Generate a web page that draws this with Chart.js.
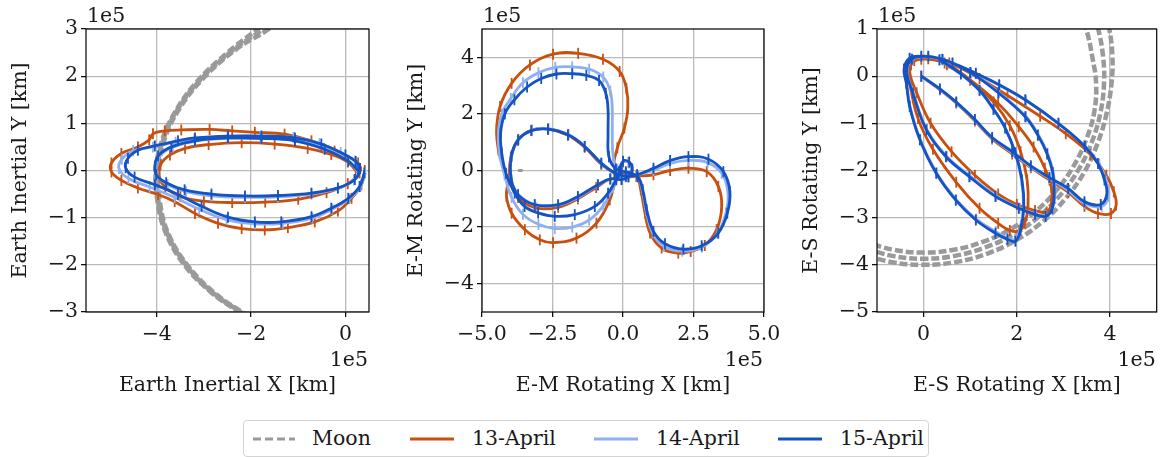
<!DOCTYPE html>
<html>
<head>
<meta charset="utf-8">
<script src="https://cdn.jsdelivr.net/npm/chart.js@4.4.0/dist/chart.umd.min.js"></script>
<style>
  body { margin: 0; background: #fff; width: 1164px; height: 457px; overflow: hidden; position: relative; font-family: 'DejaVu Serif', serif; }
  canvas { position: absolute; top: 0; }
  #legend { position: absolute; left: 243px; top: 420px; width: 686px; height: 37px; border: 1px solid #d4d4d4; border-radius: 4px; box-sizing: border-box; background: #fff; }
  #legend svg { position: absolute; left: 0; top: 0; }
  .lg { position: absolute; top: 0; line-height: 35px; font-size: 20.5px; color: #1a1a1a; white-space: nowrap; }
</style>
</head>
<body>
<canvas id="inertial" width="400" height="400" style="left:0px"></canvas>
<canvas id="emRot" width="400" height="400" style="left:390px"></canvas>
<canvas id="esRot" width="384" height="400" style="left:780px"></canvas>

<div id="legend">
  <svg width="686" height="37">
    <line x1="9" y1="18" x2="51" y2="18" stroke="#9a9a9a" stroke-width="2.8" stroke-dasharray="8,4"/>
    <line x1="166" y1="18" x2="210" y2="18" stroke="#c8500e" stroke-width="2.8"/>
    <line x1="350" y1="18" x2="394" y2="18" stroke="#8fb0f0" stroke-width="2.8"/>
    <line x1="534" y1="18" x2="578" y2="18" stroke="#1552c2" stroke-width="2.8"/>
  </svg>
  <span class="lg" style="left:68px">Moon</span>
  <span class="lg" style="left:228px">13-April</span>
  <span class="lg" style="left:412px">14-April</span>
  <span class="lg" style="left:596px">15-April</span>
</div>

<script>
// all values in units of 1e5 km

// ---- Earth inertial frame ----
const inertialXTicks = [-4, -2, 0];
const inertialYTicks = [-3, -2, -1, 0, 1, 2, 3];

const inertial13 = [
  [0.22,0.0],[0.05,0.18],[-0.3,0.34],[-0.8,0.47],[-1.5,0.56],[-2.2,0.59],[-2.9,0.55],[-3.4,0.47],[-3.72,0.33],[-3.92,0.12],
  [-3.95,-0.12],[-3.82,-0.35],[-3.5,-0.55],[-3.0,-0.65],[-2.4,-0.68],[-1.7,-0.67],[-1.0,-0.61],[-0.4,-0.47],[0.05,-0.28],[0.3,-0.05],
  [0.27,0.16],[-0.23,0.41],[-0.72,0.63],[-1.29,0.77],[-1.92,0.81],[-2.4,0.84],[-2.88,0.87],[-3.48,0.86],[-3.83,0.84],[-4.08,0.78],
  [-4.16,0.65],[-4.4,0.5],[-4.75,0.36],[-4.96,0.16],[-4.96,-0.03],[-4.75,-0.21],[-4.4,-0.37],[-3.97,-0.51],[-3.62,-0.66],[-3.19,-0.91],
  [-2.7,-1.12],[-2.2,-1.23],[-1.71,-1.26],[-1.22,-1.21],[-0.65,-1.09],[-0.16,-0.86],[0.13,-0.59],[0.34,-0.3],[0.41,0.0]
];
const inertial14 = [
  [0.25,0.0],[0.05,0.22],[-0.45,0.47],[-1.07,0.64],[-1.78,0.68],[-2.49,0.68],[-3.19,0.62],[-3.66,0.5],[-3.95,0.3],[-4.02,0.08],
  [-3.98,-0.12],[-3.77,-0.3],[-3.38,-0.45],[-2.84,-0.54],[-2.13,-0.57],[-1.43,-0.56],[-0.72,-0.5],[-0.16,-0.38],[0.18,-0.2],[0.3,0.03],
  [0.2,0.2],[-0.1,0.38],[-0.55,0.57],[-1.1,0.7],[-1.8,0.73],[-2.5,0.72],[-3.2,0.67],[-3.6,0.6],[-4.08,0.5],[-4.5,0.42],
  [-4.74,0.24],[-4.8,0.04],[-4.6,-0.17],[-4.15,-0.35],[-3.62,-0.57],[-3.1,-0.82],[-2.52,-1.04],[-1.92,-1.13],[-1.33,-1.12],[-0.7,-1.01],
  [-0.28,-0.82],[0.08,-0.6],[0.32,-0.34],[0.42,-0.05]
];
const inertial15 = [
  [0.27,0.0],[0.06,0.2],[-0.44,0.45],[-1.07,0.63],[-1.78,0.68],[-2.49,0.69],[-3.19,0.63],[-3.69,0.5],[-3.97,0.31],[-4.04,0.09],
  [-4.01,-0.09],[-3.8,-0.26],[-3.41,-0.41],[-2.84,-0.5],[-2.13,-0.54],[-1.43,-0.53],[-0.72,-0.48],[-0.16,-0.37],[0.2,-0.19],[0.31,0.04],
  [0.22,0.19],[0.0,0.33],[-0.51,0.56],[-1.07,0.69],[-1.78,0.73],[-2.49,0.73],[-3.19,0.69],[-3.55,0.63],[-4.04,0.52],[-4.4,0.43],
  [-4.61,0.26],[-4.66,0.06],[-4.47,-0.14],[-4.04,-0.3],[-3.55,-0.51],[-3.05,-0.76],[-2.49,-0.99],[-1.92,-1.09],[-1.36,-1.09],[-0.72,-0.98],
  [-0.3,-0.8],[0.06,-0.59],[0.3,-0.34],[0.4,-0.05]
];
const inertialMoonA = [[-1.62,3.2],[-1.86,3.0],[-2.5,2.5],[-3.15,1.88],[-3.6,1.26],[-3.89,0.64],[-4.02,0.0],[-3.99,-0.62],[-3.81,-1.32],[-3.4,-2.02],[-2.85,-2.58],[-2.3,-2.98],[-2.02,-3.2]];
const inertialMoonB = [[-1.5,3.2],[-1.74,3.0],[-2.4,2.54],[-3.08,1.92],[-3.56,1.29],[-3.86,0.66],[-3.99,0.0],[-3.97,-0.62],[-3.78,-1.33],[-3.35,-2.04],[-2.79,-2.61],[-2.22,-3.0],[-1.93,-3.2]];
const inertialMoonC = [[-1.38,3.2],[-1.62,3.0],[-2.3,2.58],[-3.01,1.96],[-3.52,1.31],[-3.83,0.67],[-3.96,0.0],[-3.94,-0.62],[-3.75,-1.35],[-3.3,-2.07],[-2.72,-2.64],[-2.14,-3.03],[-1.85,-3.2]];

// ---- Earth-Moon rotating frame ----
const emXTicks = [-5, -2.5, 0, 2.5, 5];
const emYTicks = [-4, -2, 0, 2, 4];

const em13 = [
  [-0.15,-0.05],[0.0,0.3],[0.2,0.28],[0.3,0.04],[0.18,-0.22],[-0.05,-0.3],[-0.45,-0.3],[-0.95,-0.6],[-1.6,-1.0],[-2.3,-1.3],
  [-3.1,-1.32],[-3.72,-0.95],[-4.0,-0.35],[-3.98,0.45],[-3.72,1.08],[-3.25,1.42],[-2.66,1.47],[-1.95,1.25],[-1.36,0.82],[-0.77,0.22],
  [-0.3,-0.1],[0.1,-0.22],[0.48,-0.2],[1.08,-0.15],[1.67,0.0],[2.32,0.08],[2.97,-0.04],[3.38,-0.56],[3.5,-1.27],[3.32,-2.09],
  [2.9,-2.65],[2.4,-2.86],[1.96,-2.92],[1.37,-2.74],[0.96,-2.21],[0.78,-1.51],[0.63,-0.68],[0.48,-0.21],[0.1,-0.1],[-0.3,0.1],
  [-0.2,0.8],[0.05,1.5],[0.17,2.2],[0.12,2.9],[-0.12,3.5],[-0.71,3.93],[-1.59,4.14],[-2.48,4.11],[-3.3,3.73],[-3.95,3.08],
  [-4.36,2.26],[-4.48,1.44],[-4.42,0.73],[-4.25,0.14],[-4.1,-0.4],[-4.13,-0.92],[-3.95,-1.51],[-3.48,-2.09],[-2.95,-2.45],[-2.48,-2.55],
  [-1.65,-2.39],[-0.94,-1.86],[-0.47,-1.04],[-0.24,-0.3],[-0.05,-0.05]
];
const em14 = [
  [-0.15,-0.05],[0.0,0.3],[0.2,0.28],[0.3,0.04],[0.18,-0.22],[-0.05,-0.3],[-0.45,-0.3],[-0.9,-0.52],[-1.6,-0.95],[-2.3,-1.22],
  [-3.13,-1.2],[-3.72,-0.84],[-3.97,-0.3],[-3.95,0.5],[-3.7,1.1],[-3.22,1.43],[-2.64,1.48],[-1.93,1.27],[-1.35,0.85],[-0.77,0.25],
  [-0.3,-0.08],[0.1,-0.2],[0.5,-0.15],[1.08,0.0],[1.67,0.25],[2.32,0.36],[3.0,0.28],[3.5,-0.1],[3.72,-0.78],[3.65,-1.5],
  [3.35,-2.22],[2.8,-2.7],[2.1,-2.85],[1.45,-2.68],[1.05,-2.2],[0.82,-1.42],[0.68,-0.68],[0.52,-0.22],[0.1,-0.05],[-0.2,0.05],
  [-0.35,0.5],[-0.38,1.32],[-0.38,2.14],[-0.45,2.8],[-0.7,3.3],[-1.2,3.58],[-1.8,3.66],[-2.4,3.64],[-3.0,3.45],[-3.55,3.1],
  [-3.98,2.55],[-4.3,2.0],[-4.42,1.32],[-4.38,0.6],[-4.2,-0.15],[-3.95,-0.95],[-3.55,-1.55],[-3.0,-1.9],[-2.42,-2.05],[-1.8,-2.0],
  [-1.2,-1.75],[-0.7,-1.25],[-0.35,-0.6],[-0.08,-0.1]
];
const em15 = [
  [-0.15,-0.05],[0.0,0.33],[0.22,0.3],[0.33,0.05],[0.2,-0.22],[-0.05,-0.32],[-0.45,-0.3],[-0.89,-0.5],[-1.6,-0.92],[-2.3,-1.21],
  [-3.13,-1.21],[-3.72,-0.86],[-3.96,-0.33],[-3.96,0.49],[-3.72,1.08],[-3.25,1.41],[-2.66,1.46],[-1.95,1.26],[-1.36,0.85],[-0.77,0.26],
  [-0.3,-0.08],[0.1,-0.2],[0.5,-0.15],[1.08,0.08],[1.67,0.35],[2.32,0.49],[3.03,0.4],[3.56,-0.04],[3.79,-0.74],[3.7,-1.51],
  [3.38,-2.21],[2.79,-2.66],[2.14,-2.78],[1.49,-2.59],[1.08,-2.15],[0.84,-1.39],[0.7,-0.68],[0.52,-0.22],[0.1,-0.05],[-0.25,0.05],
  [-0.5,0.49],[-0.53,1.32],[-0.53,2.14],[-0.61,2.73],[-0.85,3.18],[-1.3,3.36],[-1.8,3.42],[-2.36,3.41],[-2.9,3.25],[-3.4,2.95],
  [-3.85,2.5],[-4.19,2.0],[-4.34,1.32],[-4.3,0.61],[-4.15,-0.1],[-3.84,-0.8],[-3.49,-1.27],[-3.01,-1.5],[-2.42,-1.62],[-1.71,-1.56],
  [-1.0,-1.27],[-0.53,-0.8],[-0.24,-0.33],[-0.05,-0.05]
];
const emMoon = [[-3.72,0.0],[-3.56,0.0]];

// ---- Earth-Sun rotating frame ----
const esXTicks = [0, 2, 4];
const esYTicks = [-5, -4, -3, -2, -1, 0, 1];

const es13 = [
  [-0.05,0.0],[0.35,-0.29],[0.7,-0.57],[1.1,-0.95],[1.47,-1.33],[1.9,-1.65],[2.3,-1.94],[2.7,-2.2],[3.1,-2.46],[3.45,-2.76],
  [3.74,-2.91],[4.02,-2.91],[4.13,-2.73],[4.08,-2.45],[3.92,-2.1],[3.58,-1.66],[3.05,-1.22],[2.5,-0.85],[1.8,-0.41],[1.2,-0.05],
  [0.55,0.28],[0.1,0.37],[-0.2,0.33],[-0.3,0.1],[-0.15,-0.35],[0.15,-1.0],[0.6,-1.6],[1.1,-2.1],[1.6,-2.5],[2.0,-2.72],
  [2.39,-2.85],[2.64,-2.88],[2.74,-2.7],[2.74,-2.35],[2.6,-1.95],[2.36,-1.5],[2.04,-1.07],[1.6,-0.58],[1.0,-0.08],[0.45,0.28],
  [-0.05,0.36],[-0.27,0.24],[-0.28,-0.2],[-0.12,-0.9],[0.2,-1.55],[0.7,-2.25],[1.2,-2.8],[1.6,-3.12],[1.85,-3.27],[2.05,-3.28],
  [2.17,-3.12],[2.24,-2.75],[2.22,-2.2],[2.08,-1.6],[1.85,-1.05],[1.5,-0.55],[1.0,-0.08],[0.5,0.24]
];
const es14 = [
  [-0.05,0.0],[0.35,-0.28],[0.7,-0.56],[1.1,-0.93],[1.47,-1.31],[1.9,-1.62],[2.3,-1.92],[2.7,-2.17],[3.1,-2.42],[3.45,-2.7],
  [3.82,-2.76],[3.96,-2.55],[3.92,-2.22],[3.77,-1.87],[3.48,-1.5],[2.9,-1.01],[2.2,-0.52],[1.63,-0.2],[1.12,0.05],[0.62,0.27],
  [0.1,0.41],[-0.24,0.35],[-0.35,0.1],[-0.22,-0.36],[0.07,-1.13],[0.5,-1.7],[1.0,-2.12],[1.56,-2.54],[2.06,-2.8],[2.4,-2.92],
  [2.63,-2.96],[2.77,-2.78],[2.82,-2.44],[2.78,-2.04],[2.66,-1.64],[2.46,-1.24],[2.2,-0.86],[1.62,-0.35],[1.02,0.07],[0.42,0.35],
  [-0.05,0.41],[-0.3,0.37],[-0.41,0.14],[-0.36,-0.16],[-0.29,-0.65],[-0.07,-1.35],[0.28,-2.05],[0.7,-2.62],[1.13,-3.03],[1.55,-3.3],
  [1.8,-3.43],[1.96,-3.46],[2.07,-3.24],[2.14,-2.76],[2.1,-2.2],[1.96,-1.63],[1.75,-1.1],[1.5,-0.7],[1.2,-0.31],[0.8,0.04],[0.34,0.34]
];
const es15 = [
  [-0.05,0.0],[0.35,-0.27],[0.7,-0.55],[1.1,-0.92],[1.47,-1.3],[1.9,-1.6],[2.3,-1.9],[2.7,-2.15],[3.1,-2.38],[3.45,-2.66],
  [3.8,-2.72],[3.93,-2.5],[3.88,-2.2],[3.74,-1.85],[3.46,-1.49],[2.89,-1.0],[2.18,-0.5],[1.62,-0.18],[1.12,0.06],[0.62,0.28],
  [0.1,0.42],[-0.25,0.36],[-0.36,0.1],[-0.23,-0.36],[0.06,-1.14],[0.48,-1.71],[0.98,-2.13],[1.54,-2.55],[2.04,-2.8],[2.39,-2.93],
  [2.62,-2.97],[2.76,-2.8],[2.8,-2.45],[2.77,-2.05],[2.65,-1.65],[2.45,-1.25],[2.18,-0.86],[1.6,-0.35],[1.0,0.08],[0.4,0.36],
  [-0.05,0.42],[-0.3,0.38],[-0.42,0.15],[-0.37,-0.15],[-0.3,-0.64],[-0.08,-1.35],[0.27,-2.06],[0.69,-2.63],[1.12,-3.05],[1.54,-3.33],
  [1.8,-3.46],[1.97,-3.5],[2.08,-3.26],[2.15,-2.77],[2.11,-2.2],[1.97,-1.63],[1.75,-1.1],[1.5,-0.7],[1.2,-0.3],[0.8,0.05],[0.34,0.35]
];
const esMoonA = [[-1.3,-3.5],[-0.65,-3.68],[0,-3.74],[0.65,-3.68],[1.28,-3.51],[1.87,-3.24],[2.4,-2.87],[2.85,-2.42],[3.22,-1.9],[3.49,-1.34],[3.66,-0.76],[3.7,-0.15],[3.62,0.4],[3.5,0.95],[3.35,1.3]];
const esMoonB = [[-1.35,-3.62],[-0.67,-3.81],[0,-3.87],[0.67,-3.81],[1.32,-3.63],[1.94,-3.35],[2.48,-2.97],[2.95,-2.5],[3.33,-1.97],[3.61,-1.39],[3.79,-0.79],[3.87,-0.16],[3.85,0.41],[3.75,0.98],[3.62,1.35]];
const esMoonC = [[-1.39,-3.75],[-0.7,-3.94],[0,-4.0],[0.7,-3.94],[1.37,-3.76],[2.0,-3.47],[2.57,-3.07],[3.05,-2.59],[3.45,-2.03],[3.73,-1.43],[3.92,-0.81],[4.03,-0.16],[4.05,0.43],[3.98,1.02],[3.88,1.4]];

const C13 = '#c8500e', C14 = '#8fb0f0', C15 = '#1552c2', MOON = '#9a9a9a';
const GRID = '#bababa', TXT = '#1a1a1a', FONT = 'DejaVu Serif', FS = 20.5;

const toPts = a => a.map(p => ({ x: p[0], y: p[1] }));
const minus = s => String(s).replace('-', '\u2212');

function track(data, color, label) {
  return {
    label: label, data: toPts(data), showLine: true,
    borderColor: color, backgroundColor: color, borderWidth: 2.8, tension: 0.4,
    pointStyle: 'line', rotation: 90, pointRadius: 5.5, pointHoverRadius: 5.5,
    pointBorderWidth: 1.8, pointBorderColor: color
  };
}
function moon(data, w, off) {
  return {
    label: 'Moon', data: toPts(data), showLine: true,
    borderColor: MOON, borderWidth: w, borderDash: [8, 3], borderDashOffset: off, tension: 0.4,
    pointRadius: 0, pointHoverRadius: 0
  };
}

// black box round the plot and the "1e5" offset labels
const frame = {
  id: 'frame',
  afterDraw(chart) {
    const { ctx, chartArea: a } = chart;
    ctx.save();
    ctx.strokeStyle = '#000';
    ctx.lineWidth = 1.2;
    ctx.strokeRect(a.left, a.top, a.right - a.left, a.bottom - a.top);
    ctx.fillStyle = TXT;
    ctx.font = FS + 'px "' + FONT + '"';
    ctx.textBaseline = 'middle';
    ctx.textAlign = 'left';
    ctx.fillText('1e5', a.left + 1, a.top - 12);
    ctx.textAlign = 'right';
    ctx.fillText('1e5', a.right - 1, a.bottom + 49);
    ctx.restore();
  }
};

function axis(horiz, min, max, ticks, fmt, title, g) {
  return {
    type: 'linear', position: horiz ? 'bottom' : 'left', min: min, max: max,
    afterBuildTicks: s => { s.ticks = ticks.map(v => ({ value: v })); },
    afterFit: s => { if (horiz) s.height = 88; else s.width = g.yWidth; },
    grid: { color: GRID, lineWidth: 1.3, drawTicks: true, tickLength: 5, tickColor: '#000', tickWidth: 1.2 },
    border: { display: false },
    ticks: { color: TXT, font: { family: FONT, size: FS }, padding: horiz ? 5 : 3, maxRotation: 0, autoSkip: false, callback: fmt },
    title: {
      display: true, text: title, color: TXT, font: { family: FONT, size: FS },
      padding: horiz ? { top: 0, bottom: 2 } : { top: g.yTitlePad, bottom: 0 }
    }
  };
}

function panel(id, g) {
  new Chart(document.getElementById(id), {
    type: 'scatter',
    data: { datasets: g.sets },
    options: {
      responsive: false, animation: false, events: [],
      layout: { padding: { top: 29, right: g.padRight, left: 0, bottom: 0 } },
      plugins: { legend: { display: false }, tooltip: { enabled: false } },
      scales: {
        x: axis(true, g.xMin, g.xMax, g.xTicks, g.xFmt, g.xTitle, g),
        y: axis(false, g.yMin, g.yMax, g.yTicks, v => minus(v), g.yTitle, g)
      }
    },
    plugins: [frame]
  });
}

panel('inertial', {
  xMin: -5.5, xMax: 0.5, yMin: -3, yMax: 3,
  xTicks: inertialXTicks, yTicks: inertialYTicks, xFmt: v => minus(v),
  xTitle: 'Earth Inertial X [km]', yTitle: 'Earth Inertial Y [km]',
  yWidth: 86, padRight: 31, yTitlePad: 8.5,
  sets: [track(inertial15, C15, '15-April'), track(inertial14, C14, '14-April'), track(inertial13, C13, '13-April'),
         moon(inertialMoonA, 4.5, 0), moon(inertialMoonB, 4.5, 4), moon(inertialMoonC, 4.5, 8)]
});

panel('emRot', {
  xMin: -5, xMax: 5, yMin: -5, yMax: 5,
  xTicks: emXTicks, yTicks: emYTicks, xFmt: v => minus(v.toFixed(1)),
  xTitle: 'E-M Rotating X [km]', yTitle: 'E-M Rotating Y [km]',
  yWidth: 92, padRight: 26, yTitlePad: 14.5,
  sets: [track(em15, C15, '15-April'), track(em14, C14, '14-April'), track(em13, C13, '13-April'), moon(emMoon, 3, 0)]
});

panel('esRot', {
  xMin: -1, xMax: 5, yMin: -5, yMax: 1,
  xTicks: esXTicks, yTicks: esYTicks, xFmt: v => minus(v),
  xTitle: 'E-S Rotating X [km]', yTitle: 'E-S Rotating Y [km]',
  yWidth: 97, padRight: 4, yTitlePad: 19.5,
  sets: [track(es15, C15, '15-April'), track(es14, C14, '14-April'), track(es13, C13, '13-April'),
         moon(esMoonA, 4.5, 0), moon(esMoonB, 4.5, 5), moon(esMoonC, 4.5, 2)]
});
</script>
</body>
</html>
